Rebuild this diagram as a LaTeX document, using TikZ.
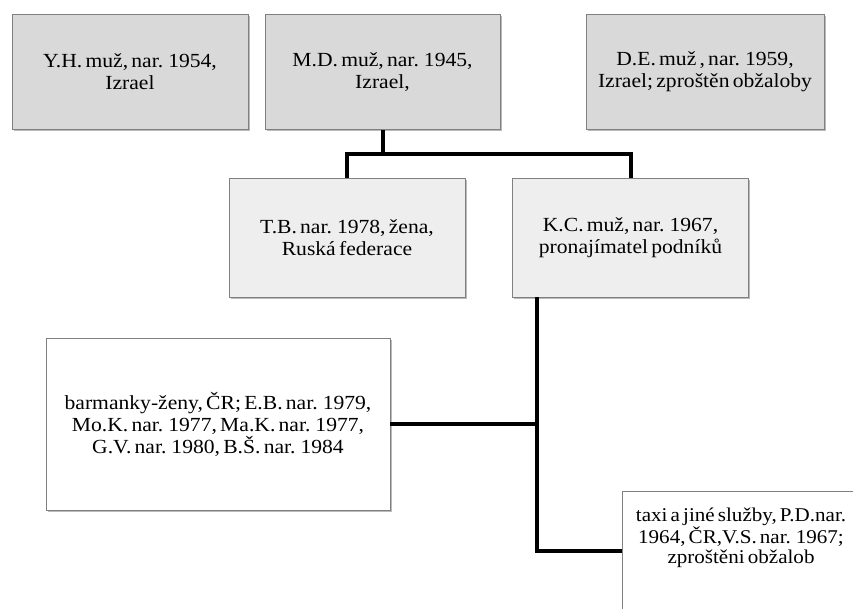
\documentclass[tikz,border=0pt]{standalone}
\usepackage{fontspec}
\setmainfont{Liberation Serif}[FakeStretch=1.08,WordSpace=0.6]
\usepackage{tikz}
\usetikzlibrary{positioning,shadows,calc}
\definecolor{boxGrey}{RGB}{217,217,217}
\definecolor{boxLight}{RGB}{238,238,238}
\definecolor{edgeGrey}{RGB}{128,128,128}

\tikzset{
  person/.style={draw=edgeGrey, line width=0.8pt, align=center, inner sep=4pt,
    font=\fontsize{20}{22}\selectfont,
    drop shadow={shadow xshift=1.5pt, shadow yshift=-2pt, opacity=0.45, fill=black!60}},
  topbox/.style={person, fill=boxGrey, minimum height=115pt},
  midbox/.style={person, fill=boxLight, minimum width=236pt, minimum height=119pt},
  lowbox/.style={person, fill=white},
  link/.style={line width=4pt, black}
}

\begin{document}
\begin{tikzpicture}[x=1pt, y=1pt]
        \useasboundingbox (0,0) rectangle (853,-609);
        \clip (0,0) rectangle (853,-609);
        % Top row
        \node[topbox, minimum width=236pt] (yh) at (130,-72)
          {Y.H. muž, nar. 1954,\\Izrael};
        \node[topbox, minimum width=235pt] (md) at (382.5,-72)
          {M.D. muž, nar. 1945,\\Izrael,};
        \node[topbox, minimum width=238pt] (de) at (705,-72)
          {D.E. muž , nar. 1959,\\Izrael; zproštěn obžaloby};
        % Second row
        \node[midbox] (tb) at (347,-237.5)
          {T.B. nar. 1978, žena,\\Ruská federace};
        \node[midbox] (kc) at (630.5,-237.5)
          {K.C. muž, nar. 1967,\\pronajímatel podníků};
        % Bottom row
        \node[lowbox, minimum width=344pt, minimum height=172pt] (bar) at (218,-424)
          {barmanky-ženy, ČR; E.B. nar. 1979,\\Mo.K. nar. 1977, Ma.K. nar. 1977,\\G.V. nar. 1980, B.Š. nar. 1984};
        \node[lowbox, minimum width=238pt, minimum height=119pt] (taxi) at (741,-550.5) {};
        \node[anchor=north, align=center, inner sep=0pt, font=\fontsize{19.5}{20}\selectfont]
          (taxitext) at ([yshift=-17pt]taxi.north)
          {taxi a jiné služby, P.D.nar.\\1964, ČR,V.S. nar. 1967;\\zproštěni obžalob};
        % Links
        \coordinate (fork) at ($(md.south)+(0,-24)$);
        \draw[link] (md.south) -- (fork);
        \draw[link] (tb.north) |- (fork) -| (kc.north);
        \coordinate (trunk) at ($(kc.south west)!0.21!(kc.south)$);
        \draw[link] (trunk) |- (taxi.west);
        \draw[link] (bar.east) -| (trunk);
      \end{tikzpicture}
\end{document}
